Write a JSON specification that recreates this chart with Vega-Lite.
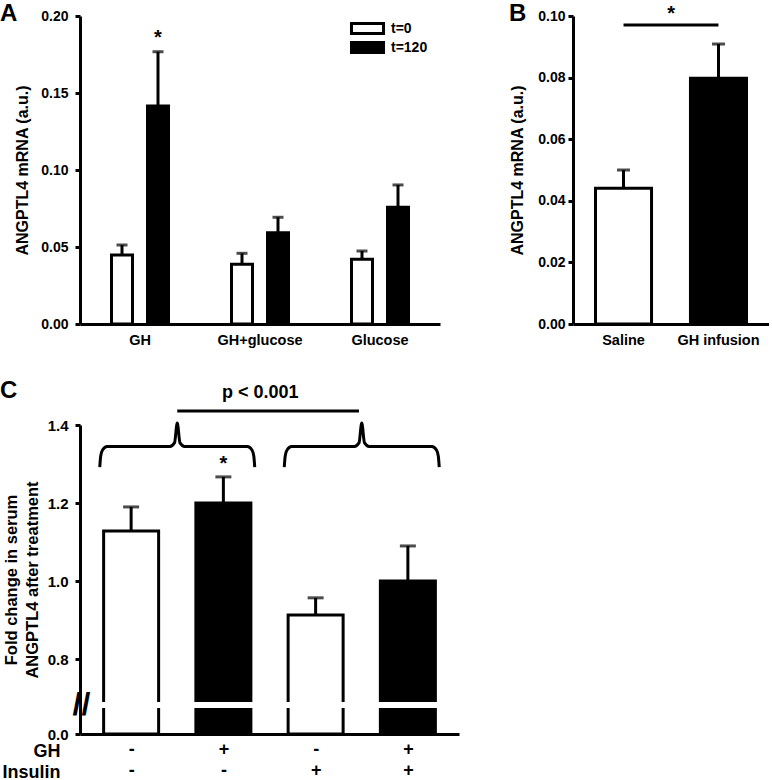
{
  "$schema": "https://vega.github.io/schema/vega-lite/v6.json",
  "padding": {"left": 0, "top": 1, "right": 0, "bottom": 0},
  "config": {
    "font": "Liberation Sans",
    "view": {"stroke": null},
    "axis": {"domainColor": "black", "domainWidth": 3, "tickColor": "black", "tickWidth": 3, "tickSize": 5, "labelColor": "black", "labelFontWeight": "bold", "titleColor": "black", "titleFontWeight": "bold", "grid": false, "labelPadding": 3},
    "title": {"fontSize": 24, "fontWeight": "bold", "color": "black", "anchor": "start", "frame": "group"},
    "text": {"font": "Liberation Sans", "fontWeight": "bold", "color": "black"}
  },
  "resolve": {"scale": {"fill": "independent"}, "legend": {"fill": "independent"}},
  "bounds": "flush",
  "spacing": 409,
  "vconcat": [
    {
      "spacing": 133,
      "bounds": "flush",
      "resolve": {"scale": {"fill": "independent"}, "legend": {"fill": "independent"}},
      "hconcat": [
        {
          "width": 360,
          "height": 308,
          "title": {"text": "A", "dx": -80, "offset": -17},
          "data": {"values": [
            {"treatment": "GH", "time": "t=0", "mean": 0.0448, "upper": 0.0513, "star": false},
            {"treatment": "GH", "time": "t=120", "mean": 0.1416, "upper": 0.1768, "star": true},
            {"treatment": "GH+glucose", "time": "t=0", "mean": 0.0388, "upper": 0.0459, "star": false},
            {"treatment": "GH+glucose", "time": "t=120", "mean": 0.0593, "upper": 0.0693, "star": false},
            {"treatment": "Glucose", "time": "t=0", "mean": 0.042, "upper": 0.0474, "star": false},
            {"treatment": "Glucose", "time": "t=120", "mean": 0.0758, "upper": 0.0903, "star": false}
          ]},
          "encoding": {
            "x": {"field": "treatment", "type": "nominal", "sort": ["GH", "GH+glucose", "Glucose"], "scale": {"paddingInner": 0, "paddingOuter": 0}, "axis": {"title": null, "labelAngle": 0, "ticks": false, "labelFontSize": 14.5, "labelPadding": 9}},
            "xOffset": {"field": "time", "type": "nominal", "sort": ["t=0", "t=120"], "scale": {"paddingInner": 0.4167, "paddingOuter": 0.875}}
          },
          "layer": [
            {
              "mark": {"type": "bar", "stroke": "black", "strokeWidth": 3},
              "encoding": {
                "y": {"field": "mean", "type": "quantitative", "title": "ANGPTL4 mRNA (a.u.)", "scale": {"domain": [0, 0.2]}, "axis": {"values": [0, 0.05, 0.1, 0.15, 0.2], "format": ".2f", "titleFontSize": 16, "labelFontSize": 14, "labelPadding": 7, "titlePadding": 10}},
                "fill": {"field": "time", "type": "nominal", "scale": {"domain": ["t=0", "t=120"], "range": ["white", "black"]}, "legend": {"title": null, "orient": "none", "legendX": 280, "legendY": 5, "symbolType": "M-2.67,-0.83H2.67V0.83H-2.67Z", "symbolSize": 144, "symbolStrokeColor": "black", "symbolStrokeWidth": 3, "labelFontSize": 14, "labelFontWeight": "bold", "labelColor": "black", "rowPadding": -4.5, "labelOffset": 16}}
              }
            },
            {
              "mark": {"type": "rule", "strokeWidth": 3, "color": "black"},
              "encoding": {"y": {"field": "mean", "type": "quantitative", "title": "ANGPTL4 mRNA (a.u.)"}, "y2": {"field": "upper"}}
            },
            {
              "mark": {"type": "tick", "orient": "horizontal", "size": 11, "thickness": 3, "color": "black"},
              "encoding": {"y": {"field": "upper", "type": "quantitative", "title": "ANGPTL4 mRNA (a.u.)"}}
            },
            {
              "transform": [{"filter": "datum.star"}],
              "mark": {"type": "text", "text": "*", "fontSize": 20, "baseline": "middle", "dy": -14},
              "encoding": {"y": {"field": "upper", "type": "quantitative", "title": "ANGPTL4 mRNA (a.u.)"}}
            }
          ]
        },
        {
          "width": 196,
          "height": 308,
          "title": {"text": "B", "dx": -64, "offset": -22},
          "data": {"values": [
            {"condition": "Saline", "mean": 0.0441, "upper": 0.05},
            {"condition": "GH infusion", "mean": 0.0798, "upper": 0.0909}
          ]},
          "encoding": {
            "x": {"field": "condition", "type": "nominal", "title": null, "scale": {"domain": ["Saline", "GH infusion"], "paddingInner": 0.41, "paddingOuter": 0.237}, "axis": {"labelAngle": 0, "ticks": false, "labelFontSize": 14.5, "labelPadding": 9}}
          },
          "layer": [
            {
              "mark": {"type": "bar", "stroke": "black", "strokeWidth": 3},
              "encoding": {
                "y": {"field": "mean", "type": "quantitative", "title": "ANGPTL4 mRNA (a.u.)", "scale": {"domain": [0, 0.1]}, "axis": {"values": [0, 0.02, 0.04, 0.06, 0.08, 0.1], "format": ".2f", "titleFontSize": 16, "labelFontSize": 14, "titlePadding": 12}},
                "fill": {"field": "condition", "type": "nominal", "scale": {"domain": ["Saline", "GH infusion"], "range": ["white", "black"]}, "legend": null}
              }
            },
            {
              "mark": {"type": "rule", "strokeWidth": 3, "color": "black"},
              "encoding": {"y": {"field": "mean", "type": "quantitative", "title": "ANGPTL4 mRNA (a.u.)"}, "y2": {"field": "upper"}}
            },
            {
              "mark": {"type": "tick", "orient": "horizontal", "size": 13, "thickness": 3, "color": "black"},
              "encoding": {"y": {"field": "upper", "type": "quantitative", "title": "ANGPTL4 mRNA (a.u.)"}}
            },
            {
              "data": {"values": [{"from": "Saline", "to": "GH infusion", "level": 0.0971, "label": "*"}]},
              "mark": {"type": "rule", "strokeWidth": 3, "color": "black"},
              "encoding": {"x": {"field": "from", "type": "nominal", "title": null}, "x2": {"field": "to"}, "y": {"field": "level", "type": "quantitative", "title": "ANGPTL4 mRNA (a.u.)"}}
            },
            {
              "data": {"values": [{"from": "Saline", "to": "GH infusion", "level": 0.0971, "label": "*"}]},
              "mark": {"type": "text", "fontSize": 20, "baseline": "middle", "dy": -11},
              "encoding": {"x": {"field": "from", "type": "nominal", "title": null, "bandPosition": 1.35}, "y": {"field": "level", "type": "quantitative", "title": "ANGPTL4 mRNA (a.u.)"}, "text": {"field": "label"}}
            }
          ]
        }
      ]
    },
    {
      "width": 379,
      "height": 309,
      "title": {"text": "C", "dx": -80, "offset": -19},
      "encoding": {
        "x": {"field": "idx", "type": "quantitative", "title": ["GH", "Insulin"], "scale": {"domain": [0.5, 4.5]}, "axis": {"values": [1, 2, 3, 4], "labelExpr": "split(['-|-', '+|-', '-|+', '+|+'][datum.value - 1], '|')", "ticks": false, "labelFontSize": 18, "labelLineHeight": 21, "labelBaseline": "top", "labelPadding": 6, "titleAlign": "right", "titleAnchor": "start", "titleX": -20, "titleY": 8, "titleBaseline": "top", "titleFontSize": 18, "titleLineHeight": 21, "zindex": 1}}
      },
      "layer": [
        {
          "data": {"values": [
            {"idx": 1, "GH": "-", "Insulin": "-", "mean": 1.128, "upper": 1.19, "star": false},
            {"idx": 2, "GH": "+", "Insulin": "-", "mean": 1.2, "upper": 1.267, "star": true},
            {"idx": 3, "GH": "-", "Insulin": "+", "mean": 0.913, "upper": 0.957, "star": false},
            {"idx": 4, "GH": "+", "Insulin": "+", "mean": 1.0, "upper": 1.09, "star": false}
          ]},
          "layer": [
            {
              "mark": {"type": "bar", "stroke": "black", "strokeWidth": 3, "width": 55},
              "encoding": {
                "y": {"field": "mean", "type": "quantitative", "title": ["Fold change in serum", "ANGPTL4 after treatment"], "scale": {"domain": [0, 0.0665, 0.69, 1.4], "range": [309, 283, 277, 0]}, "axis": {"values": [0, 0.38, 0.8, 1.0, 1.2, 1.4], "labelExpr": "datum.value == 0.38 ? '//' : format(datum.value, '.1f')", "labelFontSize": {"condition": {"test": "datum.value == 0.38", "value": 32}, "value": 15}, "labelAlign": {"condition": {"test": "datum.value == 0.38", "value": "left"}, "value": "right"}, "labelPadding": {"condition": {"test": "datum.value == 0.38", "value": 3}, "value": 7}, "tickOpacity": {"condition": {"test": "datum.value == 0.38", "value": 0}, "value": 1}, "titleFontSize": 16.5, "titleLineHeight": 21, "titlePadding": 7, "zindex": 1}},
                "fill": {"field": "GH", "type": "nominal", "scale": {"domain": ["-", "+"], "range": ["white", "black"]}, "legend": null}
              }
            },
            {
              "mark": {"type": "rect", "fill": "white"},
              "encoding": {"x": {"datum": 0.5, "type": "quantitative"}, "x2": {"datum": 4.5}, "y": {"datum": 0.0665, "type": "quantitative", "title": ["Fold change in serum", "ANGPTL4 after treatment"]}, "y2": {"datum": 0.69}}
            },
            {
              "mark": {"type": "rule", "strokeWidth": 3, "color": "black"},
              "encoding": {"y": {"field": "mean", "type": "quantitative", "title": ["Fold change in serum", "ANGPTL4 after treatment"]}, "y2": {"field": "upper"}}
            },
            {
              "mark": {"type": "tick", "orient": "horizontal", "size": 16, "thickness": 3, "color": "black"},
              "encoding": {"y": {"field": "upper", "type": "quantitative", "title": ["Fold change in serum", "ANGPTL4 after treatment"]}}
            },
            {
              "transform": [{"filter": "datum.star"}],
              "mark": {"type": "text", "text": "*", "fontSize": 20, "baseline": "middle", "dy": -13},
              "encoding": {"y": {"field": "upper", "type": "quantitative", "title": ["Fold change in serum", "ANGPTL4 after treatment"]}}
            }
          ]
        },
        {
          "data": {"values": [
            {"brace": "left", "idx": 0.66, "val": 1.292},
            {"brace": "left", "idx": 0.67, "val": 1.32},
            {"brace": "left", "idx": 0.69, "val": 1.336},
            {"brace": "left", "idx": 0.74, "val": 1.345},
            {"brace": "left", "idx": 1.42, "val": 1.345},
            {"brace": "left", "idx": 1.47, "val": 1.354},
            {"brace": "left", "idx": 1.5, "val": 1.405},
            {"brace": "left", "idx": 1.53, "val": 1.354},
            {"brace": "left", "idx": 1.58, "val": 1.345},
            {"brace": "left", "idx": 2.26, "val": 1.345},
            {"brace": "left", "idx": 2.31, "val": 1.336},
            {"brace": "left", "idx": 2.33, "val": 1.32},
            {"brace": "left", "idx": 2.34, "val": 1.292},
            {"brace": "right", "idx": 2.66, "val": 1.292},
            {"brace": "right", "idx": 2.67, "val": 1.32},
            {"brace": "right", "idx": 2.69, "val": 1.336},
            {"brace": "right", "idx": 2.74, "val": 1.345},
            {"brace": "right", "idx": 3.42, "val": 1.345},
            {"brace": "right", "idx": 3.47, "val": 1.354},
            {"brace": "right", "idx": 3.5, "val": 1.405},
            {"brace": "right", "idx": 3.53, "val": 1.354},
            {"brace": "right", "idx": 3.58, "val": 1.345},
            {"brace": "right", "idx": 4.26, "val": 1.345},
            {"brace": "right", "idx": 4.31, "val": 1.336},
            {"brace": "right", "idx": 4.33, "val": 1.32},
            {"brace": "right", "idx": 4.34, "val": 1.292}
          ]},
          "mark": {"type": "line", "color": "black", "strokeWidth": 3, "interpolate": "monotone", "clip": false},
          "encoding": {"y": {"field": "val", "type": "quantitative", "title": ["Fold change in serum", "ANGPTL4 after treatment"]}, "detail": {"field": "brace"}}
        },
        {
          "data": {"values": [{"idx": 1.5, "idx2": 3.47, "val": 1.436, "textIdx": 2.4, "textVal": 1.482, "label": "p < 0.001"}]},
          "layer": [
            {
              "mark": {"type": "rule", "strokeWidth": 3, "color": "black"},
              "encoding": {"x2": {"field": "idx2"}, "y": {"field": "val", "type": "quantitative", "title": ["Fold change in serum", "ANGPTL4 after treatment"]}}
            },
            {
              "mark": {"type": "text", "fontSize": 18, "baseline": "middle"},
              "encoding": {"x": {"field": "textIdx", "type": "quantitative", "title": ["GH", "Insulin"]}, "y": {"field": "textVal", "type": "quantitative", "title": ["Fold change in serum", "ANGPTL4 after treatment"]}, "text": {"field": "label"}}
            }
          ]
        }
      ]
    }
  ]
}
